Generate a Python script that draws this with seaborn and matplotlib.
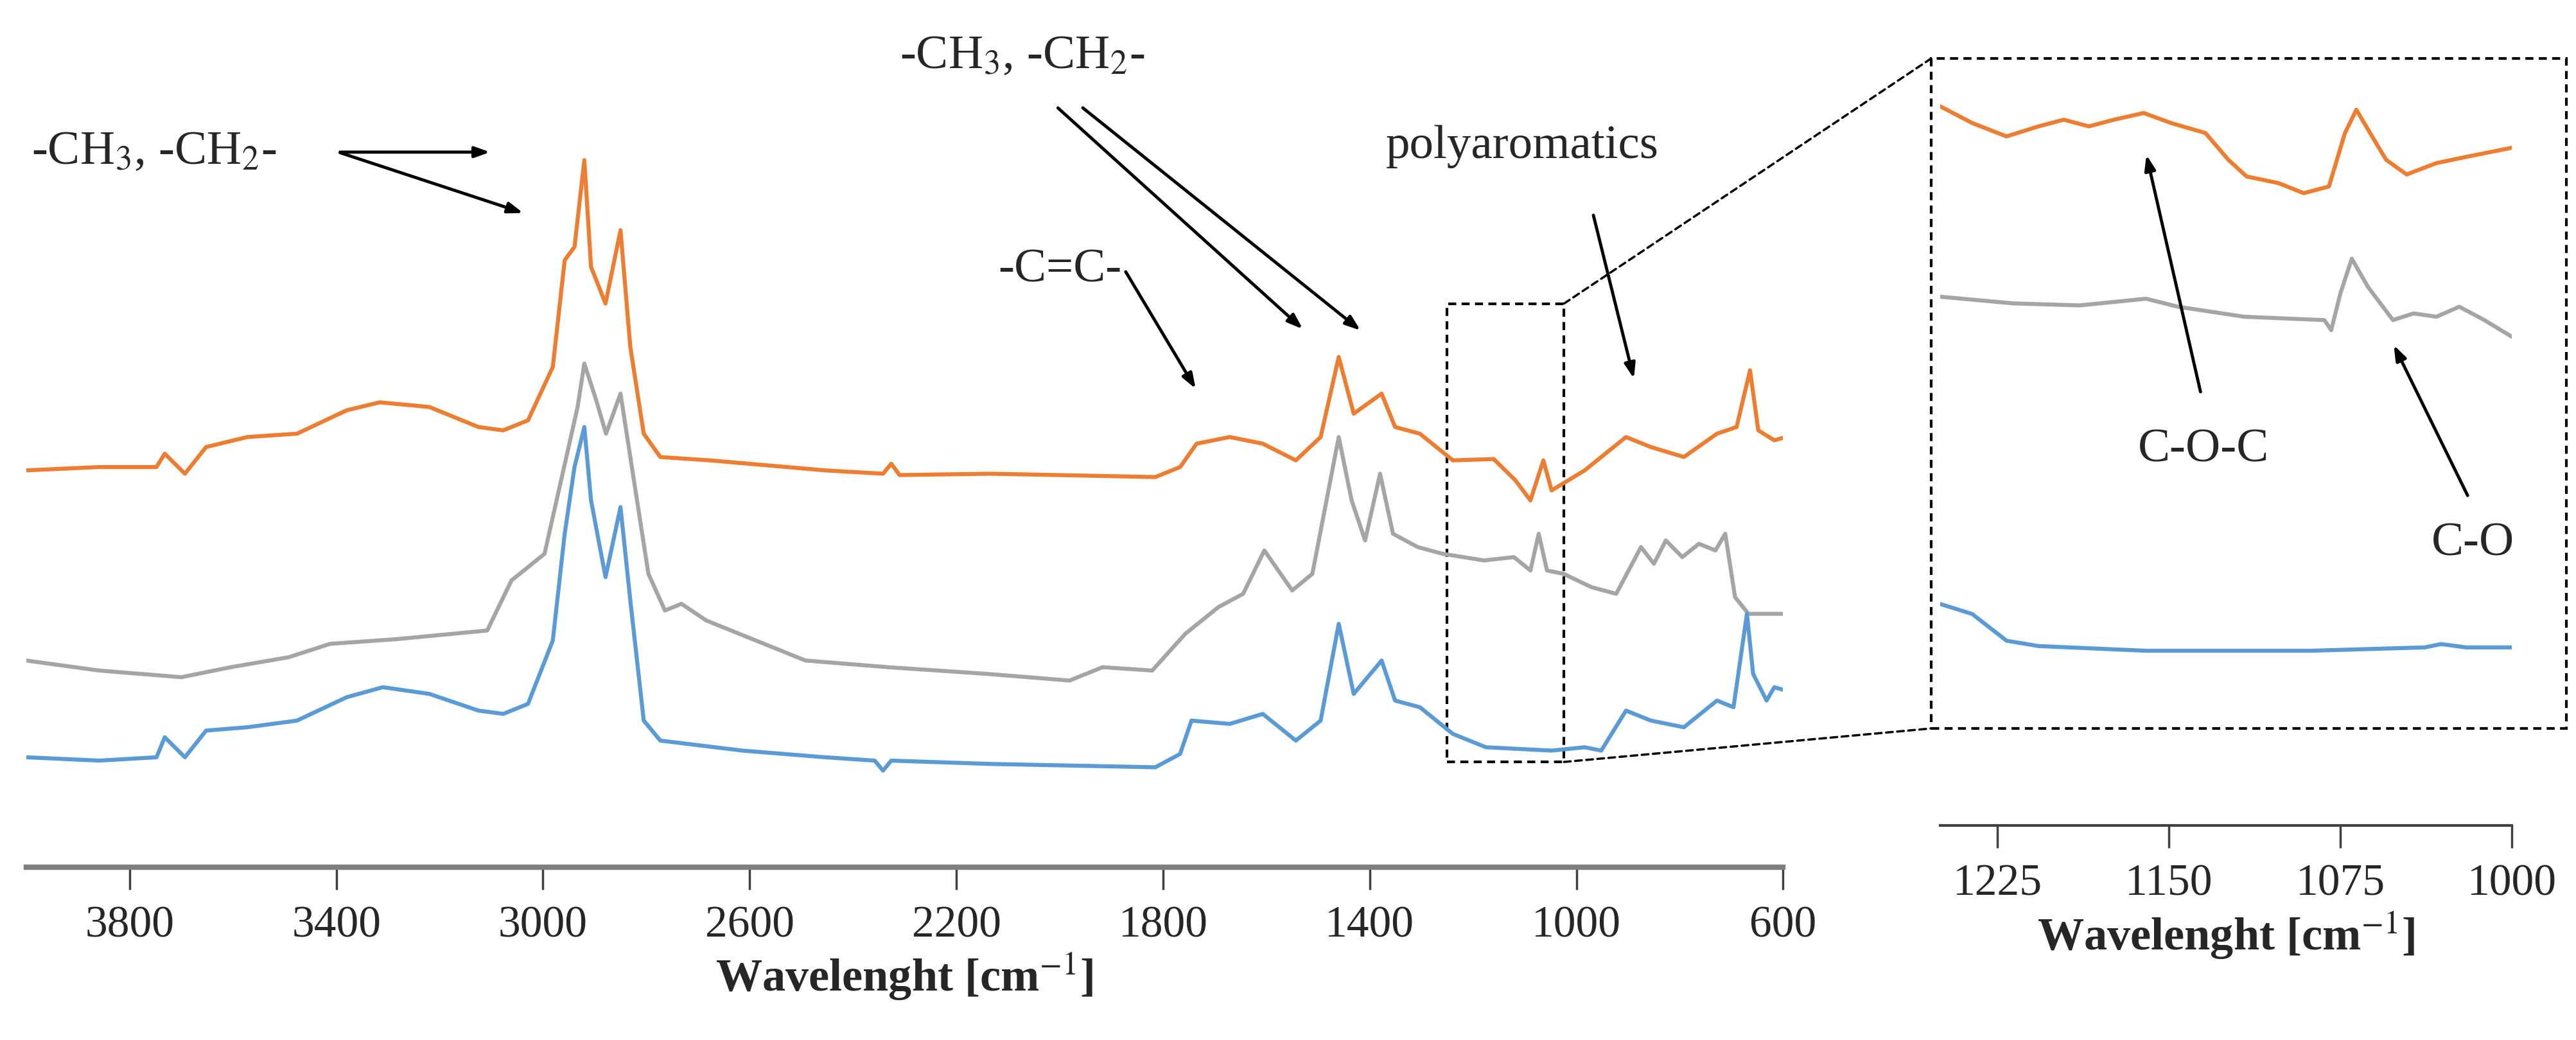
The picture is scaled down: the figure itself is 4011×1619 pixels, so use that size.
import matplotlib
matplotlib.use("Agg")
import matplotlib.pyplot as plt
import seaborn as sns
import pandas as pd
from matplotlib.patches import Rectangle, ConnectionPatch

sns.set_style("white")
plt.rcParams['font.family'] = ['Liberation Serif', 'DejaVu Serif']
plt.rcParams['mathtext.fontset'] = 'stix'

# ---- data (wavenumber cm-1, relative intensity) ----
orange_x = [4000,3859,3748,3732,3693,3652,3572,3476,3380,3316,3220,3125,3077,3029,2981,2958,2939,2920,2907,2879,2850,2831,2805,2773,2677,2454,2342,2326,2310,2134,1815,1767,1735,1671,1607,1543,1495,1460,1431,1377,1351,1303,1239,1160,1118,1089,1064,1048,984,904,856,792,728,690,664,648,617,595]
orange_y = [495,500,500,520,490,530,545,550,585,597,590,560,555,570,650,810,830,960,800,745,855,680,550,515,510,495,490,505,488,490,485,500,535,545,535,510,545,665,580,610,560,550,510,512,480,450,510,465,495,545,530,515,550,560,645,555,540,545]
gray_x = [4000,3859,3700,3604,3492,3412,3284,3108,3061,2997,2965,2933,2920,2897,2878,2850,2828,2796,2764,2732,2684,2556,2492,2332,2141,1981,1949,1917,1821,1757,1693,1645,1604,1550,1511,1460,1435,1409,1380,1355,1307,1259,1179,1121,1089,1073,1057,1025,971,923,875,850,827,795,763,731,712,693,667,595]
gray_y = [210,195,185,200,215,235,242,255,330,370,480,590,655,600,550,610,500,340,285,295,270,230,210,200,190,180,190,200,195,250,290,310,375,315,340,545,450,390,490,400,380,370,360,365,345,400,345,340,320,310,380,355,390,365,385,375,400,305,280,280]
blue_x = [4000,3859,3748,3732,3693,3652,3572,3476,3380,3310,3220,3125,3077,3029,2981,2958,2939,2920,2907,2879,2850,2831,2805,2773,2614,2454,2358,2342,2326,2134,1815,1767,1745,1671,1607,1543,1495,1460,1431,1377,1351,1303,1239,1175,1048,984,952,904,856,792,728,696,670,658,632,617,595]
blue_y = [65,60,65,95,65,105,110,120,155,170,160,135,130,145,240,400,500,560,450,335,440,300,120,90,75,65,60,45,60,55,50,70,120,115,130,90,120,265,160,210,150,140,100,80,75,80,75,135,120,110,150,140,280,190,150,170,165]

inset_orange_x = [1250,1236,1221,1207,1196,1185,1174,1161,1149,1134,1124,1116,1102,1091,1080,1073,1068,1062,1055,1046,1033,1019,1000]
inset_orange_y = [1040,1015,995,1010,1020,1010,1020,1030,1015,1000,960,935,925,910,920,1000,1035,1000,960,938,955,965,978]
inset_gray_x = [1250,1218,1189,1160,1146,1117,1082,1079,1075,1070,1063,1052,1043,1033,1023,1012,1000]
inset_gray_y = [755,745,742,752,740,725,720,705,760,812,770,720,730,725,740,720,695]
inset_blue_x = [1250,1236,1221,1207,1160,1088,1038,1031,1020,1000]
inset_blue_y = [295,280,240,232,225,225,230,235,230,230]

ORANGE = "#ED7D31"
GRAY = "#A5A5A5"
BLUE = "#5B9BD5"

fig = plt.figure(figsize=(40.11, 16.19), dpi=100)
ax = fig.add_axes([0.0102, 0.166, 0.682, 0.834])
for xs, ys, c in [(orange_x, orange_y, ORANGE), (gray_x, gray_y, GRAY), (blue_x, blue_y, BLUE)]:
    sns.lineplot(data=pd.DataFrame({"x": xs, "y": ys}), x="x", y="y", ax=ax, color=c, lw=4.5, estimator=None, sort=False)
ax.set_xlim(4000, 600)
ax.set_ylim(-100, 1200)
for s in ["top", "right", "left"]:
    ax.spines[s].set_visible(False)
ax.spines["bottom"].set_color("#7f7f7f")
ax.spines["bottom"].set_linewidth(6)
ax.set_yticks([])
ax.set_ylabel("")
ax.set_xticks([3800, 3400, 3000, 2600, 2200, 1800, 1400, 1000, 600])
ax.tick_params(axis="x", bottom=True, direction="out", length=25, width=2.5, color="#404040", labelsize=50, pad=18)
ax.set_xlabel("Wavelenght [cm$^{-1}$]", fontsize=52, fontweight="bold", labelpad=5)

ak = dict(arrowstyle="-|>,head_length=1.4,head_width=0.5", color="black", lw=3.5)
ax.text(3990, 972, "-CH$_3$, -CH$_2$-", fontsize=54, va="center", ha="left")
ax.annotate("", xy=(3099, 972), xytext=(3396, 972), arrowprops=ak)
ax.annotate("", xy=(3035, 880), xytext=(3396, 972), arrowprops=ak)
ax.text(2310, 1115, "-CH$_3$, -CH$_2$-", fontsize=54, va="center", ha="left")
ax.annotate("", xy=(1527, 705), xytext=(2006, 1040), arrowprops=ak)
ax.annotate("", xy=(1415, 703), xytext=(1958, 1040), arrowprops=ak)
ax.text(1880, 795, "-C=C-", fontsize=54, va="center", ha="right")
ax.annotate("", xy=(1735, 615), xytext=(1874, 795), arrowprops=ak)
ax.text(1105, 980, "polyaromatics", fontsize=54, va="center", ha="center")
ax.annotate("", xy=(888, 630), xytext=(968, 880), arrowprops=ak)
ax.add_patch(Rectangle((1250, 58), -226, 687, fill=False, ls=(0, (3, 2)), lw=3, color="black"))

# inset
ax2 = fig.add_axes([0.7532, 0.206, 0.2219, 0.738])
for xs, ys, c in [(inset_orange_x, inset_orange_y, ORANGE), (inset_gray_x, inset_gray_y, GRAY), (inset_blue_x, inset_blue_y, BLUE)]:
    sns.lineplot(data=pd.DataFrame({"x": xs, "y": ys}), x="x", y="y", ax=ax2, color=c, lw=4.5, estimator=None, sort=False)
ax2.set_xlim(1250, 1000)
ax2.set_ylim(1200 - 1237, 1200 - 88)
for s in ["top", "right", "left"]:
    ax2.spines[s].set_visible(False)
ax2.spines["bottom"].set_color("#404040")
ax2.spines["bottom"].set_linewidth(3)
ax2.set_yticks([])
ax2.set_ylabel("")
ax2.set_xticks([1225, 1150, 1075, 1000])
ax2.tick_params(axis="x", bottom=True, direction="out", length=25, width=2.5, color="#404040", labelsize=50, pad=18)
ax2.set_xlabel("Wavelenght [cm$^{-1}$]", fontsize=52, fontweight="bold", labelpad=5)
ax2.text(1135, 525, "C-O-C", fontsize=54, va="center", ha="center")
ax2.annotate("", xy=(1160, 970), xytext=(1136, 610), arrowprops=ak)
ax2.text(1017, 385, "C-O", fontsize=54, va="center", ha="center")
ax2.annotate("", xy=(1052, 685), xytext=(1019, 455), arrowprops=ak)

# dashed box around inset (figure coords)
W, H = 4011, 1619
bx0, bx1, by0, by1 = 3007 / W, 3996 / W, 1 - 1134 / H, 1 - 91 / H
fig.add_artist(Rectangle((bx0, by0), bx1 - bx0, by1 - by0, transform=fig.transFigure, fill=False, ls=(0, (3, 2)), lw=3, color="black"))
for yd, yf in [(745, by1), (58, by0)]:
    p = ConnectionPatch(xyA=(1024, yd), coordsA=ax.transData, xyB=(bx0, yf), coordsB=fig.transFigure, ls=(0, (3, 2)), lw=2.5, color="black")
    fig.add_artist(p)

fig.savefig("out.png", dpi=100)
